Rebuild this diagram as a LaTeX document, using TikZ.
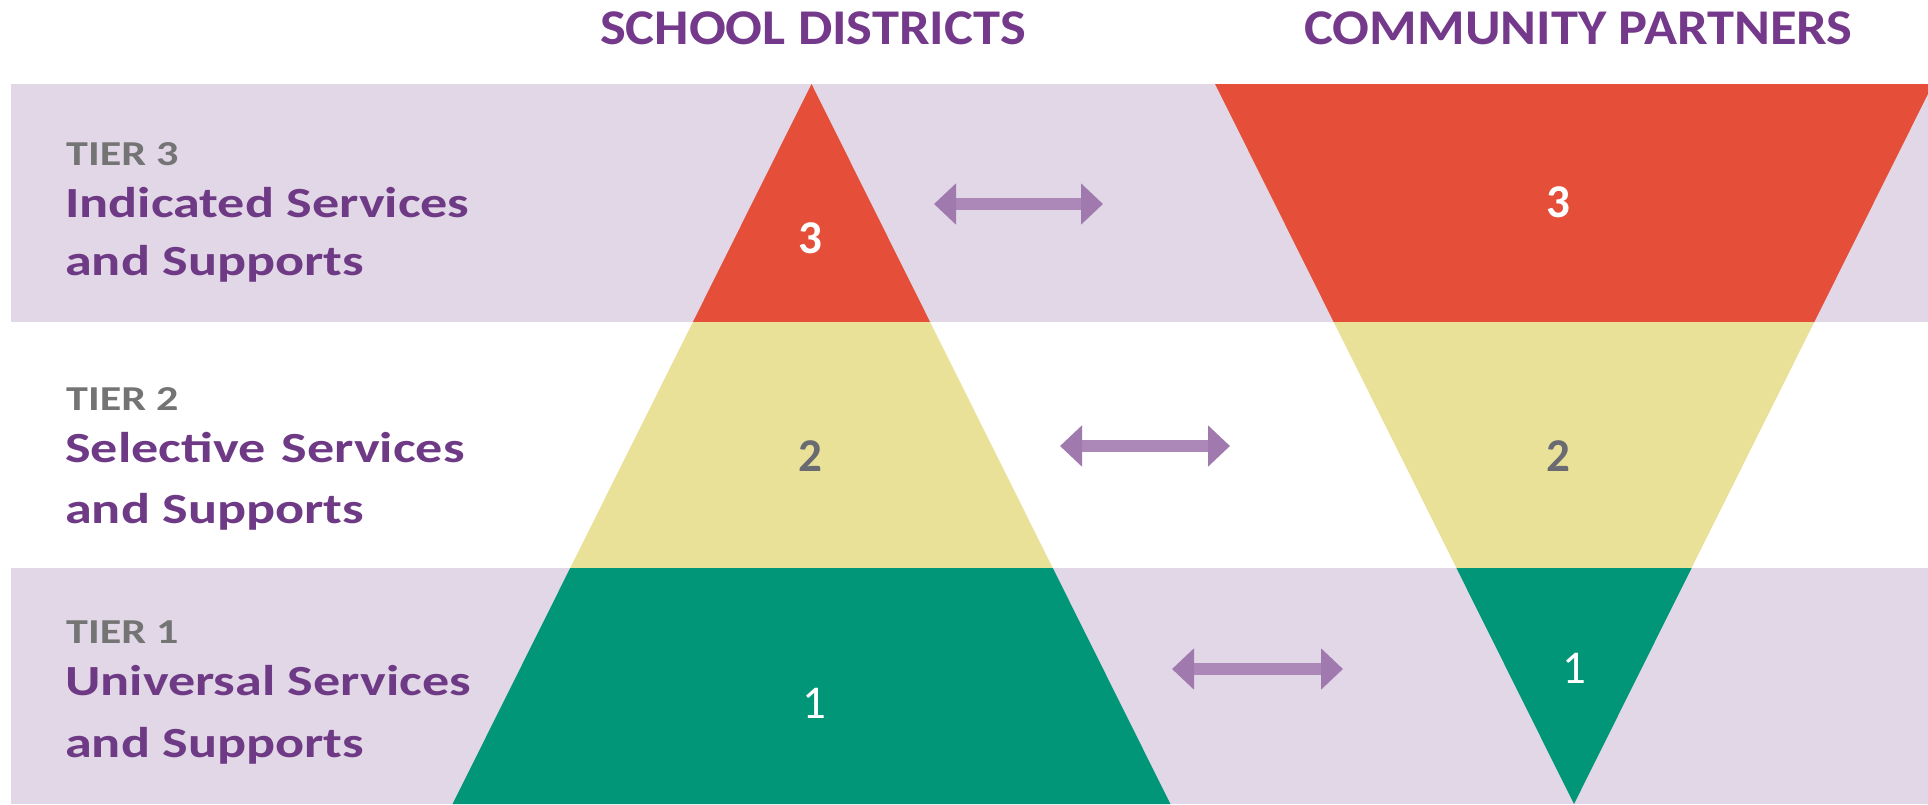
\documentclass[tikz,border=0pt]{standalone}
\usepackage{fontspec}
\setmainfont{Carlito}
\newfontfamily\tierfont[FakeStretch=1.26]{Carlito}
\newfontfamily\headfont[FakeStretch=1.09]{Carlito}
\usetikzlibrary{arrows.meta}
\definecolor{band}{HTML}{E2D7E6}
\definecolor{tred}{HTML}{E54E38}
\definecolor{tyellow}{HTML}{EAE199}
\definecolor{tgreen}{HTML}{009677}
\definecolor{hpurple}{HTML}{74398A}
\definecolor{tpurple}{HTML}{6F3A85}
\definecolor{tgray}{HTML}{747474}
\definecolor{ngray}{HTML}{6A6A72}
\definecolor{apurple}{HTML}{AB88B7}
\definecolor{aheadpurple}{HTML}{A07AAF}
\tikzset{
  header/.style={anchor=base, text=hpurple, font=\fontsize{50}{50}\headfont\bfseries, inner sep=0},
  tiernum/.style={anchor=base west, text=tgray, font=\fontsize{35}{35}\tierfont\bfseries, inner sep=0},
  tiername/.style={anchor=base west, text=tpurple, font=\fontsize{43}{43}\tierfont\bfseries, inner sep=0},
  digit/.style={font=\fontsize{47}{47}\selectfont\bfseries, inner sep=0},
  digitone/.style={font=\fontsize{47}{47}\selectfont, inner sep=0, text=white},
  twoway/.style={draw=apurple, line width=12pt, {Triangle[length=22pt,width=40pt,color=aheadpurple]}-{Triangle[length=22pt,width=40pt,color=aheadpurple]}}
}
\begin{document}
\begin{tikzpicture}[x=1pt,y=-1pt]
\useasboundingbox (0,0) rectangle (1928,804);
\clip (0,0) rectangle (1928,804);
% bands
\fill[band] (11,84) rectangle (1928,322);
\fill[band] (11,568) rectangle (1928,804);
% left pyramid
\fill[tred] (811.5,84) -- (930.1,322) -- (692.9,322) -- cycle;
\fill[tyellow] (692.9,322) -- (930.1,322) -- (1052.8,568) -- (570.2,568) -- cycle;
\fill[tgreen] (570.2,568) -- (1052.8,568) -- (1170.4,804) -- (452.6,804) -- cycle;
% right inverted pyramid
\fill[tred] (1215.1,84) -- (1932.9,84) -- (1814.3,322) -- (1333.7,322) -- cycle;
\fill[tyellow] (1333.7,322) -- (1814.3,322) -- (1691.6,568) -- (1456.4,568) -- cycle;
\fill[tgreen] (1456.4,568) -- (1691.6,568) -- (1574,804) -- cycle;
% headers
\node[header] (hsd) at (813,44) {SCHOOL DISTRICTS};
\node[header] (hcp) at (1578.5,44) {COMMUNITY PARTNERS};
% tier labels
\node[tiernum] (t3) at (66,165) {TIER 3};
\node[tiername] (t3a) at (65,217) {Indicated Services};
\node[tiername] (t3b) at (65,275) {and Supports};
\node[tiernum] (t2) at (66,410) {TIER 2};
\node[tiername] (t2a) at (65,462) {Selective\hspace{4pt} Services};
\node[tiername] (t2b) at (65,523) {and Supports};
\node[tiernum] (t1) at (66,643) {TIER 1};
\node[tiername] (t1a) at (65,695) {Universal Services};
\node[tiername] (t1b) at (65,757) {and Supports};
% numbers
\node[digit, text=white] (l3) at (810,238) {3};
\node[digit, text=ngray] (l2) at (810,456) {2};
\node[digitone] (l1) at (814,703) {1};
\node[digit, text=white] (r3) at (1558,202) {3};
\node[digit, text=ngray] (r2) at (1558,456) {2};
\node[digitone] (r1) at (1574,668) {1};
% arrows
\coordinate (a3l) at (934,204); \coordinate (a3r) at (1103,204);
\coordinate (a2l) at (1060,446); \coordinate (a2r) at (1230,446);
\coordinate (a1l) at (1172,669); \coordinate (a1r) at (1343,669);
\draw[twoway] (a3l) -- (a3r);
\draw[twoway] (a2l) -- (a2r);
\draw[twoway] (a1l) -- (a1r);
\end{tikzpicture}
\end{document}
